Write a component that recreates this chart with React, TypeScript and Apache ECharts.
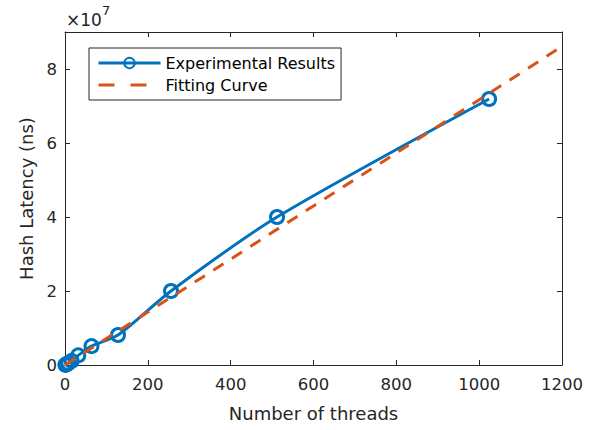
import React, { useEffect, useRef } from "react";
import * as echarts from "echarts";

const threads = [1, 2, 4, 8, 16, 32, 64, 128, 256, 512, 1024];
const latency = [0.05e6, 0.1e6, 0.25e6, 0.5e6, 1.1e6, 2.6e6, 5.1e6, 8.1e6, 20e6, 40e6, 71.9e6];
const fitX = [0, 200, 400, 600, 800, 1000, 1200];
const fitY = [0, 14.3e6, 28.6e6, 43e6, 57.3e6, 71.7e6, 86.1e6];
const xTicks = [0, 200, 400, 600, 800, 1000, 1200];
const yTicks = [0, 2e7, 4e7, 6e7, 8e7];

const BLUE = "#0072BD";
const ORANGE = "#D95319";
const AXIS = "#262626";
const FONT = "DejaVu Sans, Liberation Sans, Arial, sans-serif";

export default function App() {
  const ref = useRef<HTMLDivElement>(null);
  useEffect(() => {
    const chart = echarts.init(ref.current!, null, { renderer: "svg" });
    const axisCommon = {
      axisLine: { show: true, onZero: false, lineStyle: { color: AXIS, width: 1 } },
      axisTick: { show: true, inside: true, length: 5, lineStyle: { color: AXIS } },
      splitLine: { show: false },
    };
    chart.setOption({
      animation: false,
      backgroundColor: "#ffffff",
      textStyle: { fontFamily: FONT },
      grid: { left: 65, right: 38, top: 32, bottom: 65, containLabel: false },
      legend: {
        left: 89,
        top: 48,
        orient: "vertical",
        padding: [7, 6, 7, 8],
        itemGap: 6,
        itemWidth: 62,
        itemHeight: 13,
        borderColor: AXIS,
        borderWidth: 1,
        borderRadius: 0,
        backgroundColor: "#fff",
        textStyle: { fontSize: 16, color: "#000", fontFamily: FONT },
        data: [
          { name: "Experimental Results", lineStyle: { width: 3 } },
          { name: "Fitting Curve", lineStyle: { width: 3, type: [16, 16] }, itemStyle: { opacity: 0 } },
        ],
      },
      graphic: [
        {
          type: "text",
          left: 66,
          top: 4,
          style: {
            text: "{a|×10}{b|7}",
            rich: {
              a: { fontSize: 17, fill: AXIS, fontFamily: FONT, verticalAlign: "bottom", lineHeight: 24 },
              b: { fontSize: 13, fill: AXIS, fontFamily: FONT, verticalAlign: "top", lineHeight: 24 },
            },
          },
        },
      ],
      xAxis: [
        {
          type: "value",
          min: 0,
          max: 1200,
          interval: 200,
          name: "Number of threads",
          nameLocation: "middle",
          nameGap: 39,
          nameTextStyle: { fontSize: 18, color: AXIS, fontFamily: FONT },
          axisLabel: {
            fontSize: 16.5,
            color: AXIS,
            margin: 11,
            fontFamily: FONT,
            formatter: (v: number) => (xTicks.includes(v) ? String(v) : ""),
          },
          ...axisCommon,
        },
        {
          type: "value",
          position: "top",
          min: 0,
          max: 1200,
          interval: 200,
          axisLabel: { show: false },
          ...axisCommon,
        },
      ],
      yAxis: [
        {
          type: "value",
          min: 0,
          max: 9e7,
          interval: 2e7,
          name: "Hash Latency (ns)",
          nameLocation: "middle",
          nameGap: 27,
          nameTextStyle: { fontSize: 18, color: AXIS, fontFamily: FONT },
          axisLabel: {
            fontSize: 16.5,
            color: AXIS,
            margin: 8,
            fontFamily: FONT,
            showMaxLabel: false,
            formatter: (v: number) => (yTicks.includes(v) ? String(v / 1e7) : ""),
          },
          ...axisCommon,
        },
        {
          type: "value",
          position: "right",
          min: 0,
          max: 9e7,
          interval: 2e7,
          axisLabel: { show: false },
          ...axisCommon,
        },
      ],
      series: [
        {
          name: "Experimental Results",
          type: "line",
          data: threads.map((t, i) => [t, latency[i]]),
          smooth: 0.25,
          symbol: "circle",
          symbolSize: 13,
          showSymbol: true,
          lineStyle: { color: BLUE, width: 3 },
          itemStyle: { color: "rgba(255,255,255,0)", borderColor: BLUE, borderWidth: 3 },
          z: 3,
        },
        {
          name: "Fitting Curve",
          type: "line",
          data: fitX.map((x, i) => [x, fitY[i]]),
          symbol: "none",
          lineStyle: { color: ORANGE, width: 3, type: [12, 10] },
          itemStyle: { color: ORANGE },
          z: 4,
        },
      ],
    });
    return () => chart.dispose();
  }, []);
  return <div ref={ref} style={{ width: 600, height: 430, position: "absolute", left: 0, top: 0 }} />;
}
